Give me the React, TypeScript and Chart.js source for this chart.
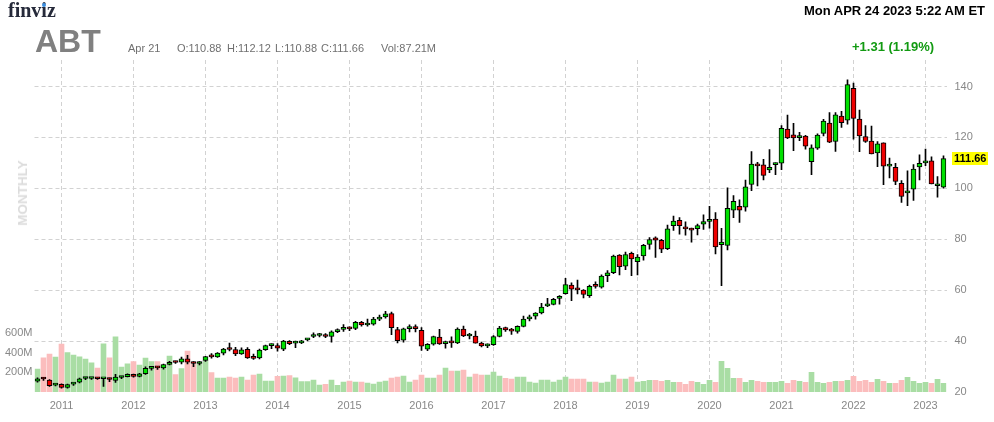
import React, { useEffect, useRef } from 'react';
import { Chart, registerables } from 'chart.js';

Chart.register(...registerables);

// ---- DATA (monthly candles, Sep 2010 .. Apr 2023) ----
const START_YEAR = 2010;
const START_MONTH = 8; // September (0-based)

const OPEN = [
  24.3, 25.3, 24.7, 22.7,
  23.0, 21.8, 23.1, 23.9, 25.3, 25.3, 25.4, 25.2, 25.0, 24.5, 25.7, 26.0,
  26.9, 26.1, 27.2, 29.3, 29.7, 29.5, 30.8, 31.7, 31.7, 33.0, 31.6, 31.2,
  32.4, 34.0, 33.8, 35.3, 36.9, 36.7, 35.0, 36.8, 33.5, 33.4, 36.6, 38.2,
  38.2, 36.8, 39.9, 39.2, 39.3, 40.5, 41.8, 42.2, 42.1, 41.8, 43.7, 44.6,
  45.1, 45.0, 47.4, 46.3, 46.6, 48.6, 49.5, 50.8, 44.5, 40.4, 44.9, 45.0,
  44.2, 36.8, 38.8, 41.6, 39.0, 39.6, 39.3, 44.7, 42.0, 42.0, 39.2, 38.1,
  38.6, 41.8, 45.3, 44.2, 43.8, 45.8, 48.7, 49.8, 51.1, 53.8, 54.4, 56.8,
  58.6, 62.0, 60.5, 60.0, 57.8, 61.8, 61.2, 65.7, 66.9, 73.8, 69.4, 74.5,
  71.2, 73.4, 78.0, 80.6, 79.6, 76.3, 85.3, 87.4, 84.6, 84.0, 84.2, 85.9,
  87.0, 87.9, 77.9, 77.6, 91.4, 92.9, 92.6, 101.5, 109.0, 109.2, 107.2, 109.3,
  109.9, 123.3, 121.0, 119.9, 120.5, 110.5, 115.8, 121.6, 125.6, 118.4, 128.4, 126.8,
  139.3, 127.2, 120.3, 118.6, 113.9, 117.9, 108.7, 108.2, 102.0, 98.2, 99.7, 108.4,
  110.0, 110.8, 101.0, 100.5,
];

const HIGH = [
  25.6, 25.8, 24.9, 23.2,
  23.2, 23.1, 23.6, 25.5, 25.8, 25.6, 25.7, 25.4, 25.5, 26.9, 26.2, 27.1,
  27.0, 27.3, 29.9, 29.9, 30.1, 31.0, 32.0, 32.1, 33.7, 34.4, 31.9, 31.9,
  34.0, 35.1, 35.5, 37.2, 39.2, 37.5, 37.3, 37.4, 34.9, 36.9, 38.4, 38.9,
  39.0, 40.3, 40.2, 40.0, 40.3, 41.0, 43.2, 43.0, 42.9, 44.0, 44.8, 46.5,
  45.6, 47.8, 47.8, 48.6, 49.3, 50.2, 51.7, 51.4, 45.4, 45.1, 46.4, 46.4,
  45.3, 39.0, 42.0, 44.6, 40.0, 41.7, 45.2, 45.9, 43.0, 43.9, 39.6, 38.9,
  42.2, 45.8, 45.5, 45.0, 46.0, 49.8, 50.2, 51.2, 54.8, 56.8, 56.8, 57.9,
  64.6, 62.9, 64.0, 60.2, 62.0, 63.3, 66.0, 67.7, 73.8, 74.0, 75.0, 75.0,
  74.0, 78.0, 80.7, 80.9, 80.0, 85.6, 89.1, 88.5, 86.8, 84.4, 86.0, 89.6,
  92.9, 90.5, 84.3, 100.2, 97.1, 95.5, 103.2, 114.4, 110.2, 111.4, 115.2, 110.0,
  124.6, 128.8, 125.5, 122.0, 120.8, 117.1, 121.4, 127.1, 129.7, 129.7, 130.2, 142.6,
  141.3, 130.7, 124.6, 124.4, 118.4, 117.9, 111.9, 109.8, 103.0, 106.9, 109.3, 113.2,
  115.4, 112.4, 104.6, 112.8,
];

const LOW = [
  23.9, 24.5, 22.2, 22.4,
  21.5, 21.5, 22.6, 23.6, 24.8, 24.9, 24.9, 22.2, 24.1, 23.8, 25.2, 25.9,
  25.8, 25.9, 26.9, 28.6, 28.9, 29.0, 30.6, 31.2, 31.0, 31.0, 29.9, 30.6,
  32.0, 33.3, 33.6, 34.6, 36.1, 34.3, 34.8, 33.2, 32.8, 33.0, 36.3, 37.0,
  36.0, 36.2, 38.6, 37.4, 39.0, 40.1, 41.3, 41.6, 41.3, 39.6, 43.3, 43.8,
  44.1, 44.5, 45.9, 45.9, 46.2, 48.0, 49.0, 42.5, 39.3, 39.6, 43.6, 43.6,
  36.3, 36.2, 38.4, 38.7, 37.2, 37.5, 39.0, 41.7, 40.8, 39.2, 37.7, 37.4,
  38.3, 41.6, 43.8, 42.6, 43.1, 45.6, 47.9, 48.6, 50.7, 53.5, 54.2, 54.5,
  58.4, 55.9, 58.5, 57.0, 57.1, 60.8, 60.8, 63.3, 66.5, 66.0, 68.0, 65.7,
  66.0, 71.8, 76.1, 72.9, 74.7, 75.9, 83.5, 82.0, 81.6, 78.8, 81.7, 83.9,
  84.3, 74.2, 61.8, 75.8, 88.5, 86.6, 91.0, 99.1, 100.9, 103.3, 106.1, 105.4,
  107.3, 119.5, 114.8, 118.7, 115.4, 105.4, 115.3, 120.6, 117.9, 114.5, 123.9, 125.2,
  119.3, 114.4, 118.0, 113.5, 108.5, 101.4, 104.1, 101.4, 94.5, 93.2, 95.2, 103.3,
  108.9, 101.7, 96.5, 100.1,
];

const CLOSE = [
  25.2, 25.1, 22.5, 22.9,
  21.8, 22.9, 23.3, 25.2, 25.4, 25.4, 25.2, 25.3, 24.9, 25.9, 25.8, 26.9,
  26.1, 27.1, 29.3, 29.6, 29.5, 30.8, 31.7, 31.6, 33.0, 31.7, 31.2, 31.4,
  33.9, 33.8, 35.3, 36.9, 36.7, 35.0, 36.6, 33.4, 33.2, 36.5, 38.2, 38.3,
  37.2, 40.0, 39.0, 39.3, 40.1, 40.9, 42.1, 42.4, 41.8, 43.6, 44.5, 45.0,
  44.8, 47.4, 46.3, 46.4, 48.6, 49.1, 50.7, 45.3, 40.2, 44.8, 44.9, 44.9,
  38.0, 38.7, 41.8, 38.9, 39.6, 39.3, 44.7, 42.0, 42.3, 39.2, 38.1, 38.4,
  41.8, 45.1, 44.4, 43.9, 45.8, 48.6, 49.2, 51.0, 53.4, 54.2, 56.4, 57.1,
  62.2, 60.4, 60.1, 58.3, 61.5, 61.5, 65.5, 66.8, 73.4, 69.2, 74.0, 72.3,
  73.0, 77.6, 79.9, 79.6, 76.1, 84.1, 87.1, 85.3, 84.1, 83.6, 85.4, 86.9,
  87.1, 77.0, 78.9, 92.1, 94.9, 91.4, 100.6, 109.5, 108.8, 105.1, 108.2, 109.5,
  123.6, 119.8, 119.8, 120.2, 116.6, 115.9, 120.9, 126.4, 118.1, 128.9, 125.8, 140.7,
  127.5, 120.6, 118.4, 113.5, 117.5, 108.7, 108.8, 102.7, 96.8, 98.9, 107.6, 109.8,
  110.6, 101.7, 101.3, 111.66,
];

// volume in millions of shares
const VOLUME = [
  233, 348, 385, 355,
  487, 399, 375, 358, 335, 297, 243, 490, 348, 561, 254, 287,
  308, 274, 345, 308, 308, 277, 365, 176, 237, 416, 304, 297,
  321, 196, 142, 142, 152, 142, 152, 122, 172, 183, 112, 112,
  159, 162, 166, 145, 105, 105, 122, 71, 78, 122, 68, 101,
  112, 101, 101, 91, 81, 101, 112, 142, 152, 162, 101, 122,
  172, 142, 142, 172, 243, 213, 213, 223, 152, 183, 172, 172,
  203, 162, 139, 132, 152, 152, 101, 91, 122, 122, 101, 122,
  152, 132, 132, 132, 101, 101, 91, 101, 172, 132, 132, 152,
  101, 108, 118, 118, 108, 118, 98, 98, 78, 108, 98, 78,
  118, 98, 311, 240, 139, 139, 98, 118, 108, 98, 98, 98,
  108, 88, 118, 108, 98, 199, 98, 88, 98, 108, 108, 118,
  159, 108, 118, 98, 128, 108, 88, 88, 118, 149, 108, 88,
  98, 88, 128, 88,
];

const PRICE_TICKS = [20, 40, 60, 80, 100, 120, 140];
const VOLUME_TICKS = [200, 400, 600];

const MONTHS = OPEN.map((_, i) => {
  const m = START_MONTH + i;
  return { year: START_YEAR + Math.floor(m / 12), month: m % 12 };
});
const CATEGORIES = MONTHS.map((d) => `${d.year}-${String(d.month + 1).padStart(2, '0')}`);

const GREEN = '#00e000';
const RED = '#ee0000';
const VOL_GREEN = '#a9dda4';
const VOL_PINK = '#fbbdbd';
const GRID = '#d2d2d2';
const FONT = '"Liberation Sans", Arial, Helvetica, sans-serif';

const lastPricePlugin = {
  id: 'lastPrice',
  afterDraw(chart: any) {
    const { ctx, scales } = chart;
    const last = CLOSE[CLOSE.length - 1];
    const y = scales.y.getPixelForValue(last);
    ctx.save();
    ctx.fillStyle = '#ffff00';
    ctx.fillRect(952, Math.round(y) - 7, 36, 13);
    ctx.fillStyle = '#000';
    ctx.font = `bold 11px ${FONT}`;
    ctx.textBaseline = 'middle';
    ctx.textAlign = 'left';
    ctx.fillText(last.toFixed(2), 954, Math.round(y) - 0.5);
    ctx.restore();
  },
};

function Txt(props: { x?: number; right?: number; baseline: number; size: number; bold?: boolean; color: string; family?: string; children: any }) {
  const { x, right, baseline, size, bold, color, family, children } = props;
  const style: any = {
    position: 'absolute',
    top: baseline - 0.8465 * size,
    fontSize: size,
    lineHeight: `${size}px`,
    fontWeight: bold ? 'bold' : 'normal',
    color,
    fontFamily: family || FONT,
    whiteSpace: 'nowrap',
  };
  if (x !== undefined) style.left = x;
  if (right !== undefined) style.right = right;
  return <span style={style}>{children}</span>;
}

export default function App() {
  const canvasRef = useRef<HTMLCanvasElement | null>(null);

  useEffect(() => {
    const canvas = canvasRef.current;
    if (!canvas) return;
    const up = CLOSE.map((c, i) => c >= OPEN[i]);
    const chart = new Chart(canvas, {
      type: 'bar',
      data: {
        labels: CATEGORIES,
        datasets: [
          {
            type: 'bar',
            label: 'body',
            data: OPEN.map((o, i) => [o, CLOSE[i]]) as any,
            yAxisID: 'y',
            grouped: false,
            barThickness: 5,
            minBarLength: 2,
            backgroundColor: up.map((u) => (u ? GREEN : RED)),
            borderColor: '#000',
            borderWidth: 1,
            borderSkipped: false,
            order: 0,
          } as any,
          {
            type: 'bar',
            label: 'wick',
            data: LOW.map((l, i) => [l, HIGH[i]]) as any,
            yAxisID: 'y',
            grouped: false,
            barThickness: 1,
            backgroundColor: '#000',
            borderWidth: 0,
            order: 1,
          } as any,
          {
            type: 'bar',
            label: 'volume',
            data: VOLUME,
            yAxisID: 'yv',
            grouped: false,
            barThickness: 5,
            backgroundColor: up.map((u) => (u ? VOL_GREEN : VOL_PINK)),
            borderWidth: 0,
            order: 2,
          } as any,
        ],
      },
      options: {
        responsive: false,
        maintainAspectRatio: false,
        animation: false,
        devicePixelRatio: 1,
        events: [],
        layout: { padding: { top: 60, left: 0, right: 0, bottom: 0 } },
        plugins: { legend: { display: false }, tooltip: { enabled: false } },
        scales: {
          x: {
            type: 'category',
            offset: true,
            grid: {
              offset: false,
              drawTicks: false,
              lineWidth: 1,
              color: (ctx: any) => (ctx.index != null && MONTHS[ctx.index] && MONTHS[ctx.index].month === 0 ? GRID : 'rgba(0,0,0,0)'),
            },
            border: { display: false, dash: [4, 3] },
            ticks: {
              autoSkip: false,
              maxRotation: 0,
              minRotation: 0,
              padding: 7,
              color: '#888',
              font: { family: FONT, size: 11 },
              callback: (_v: any, i: number) => (MONTHS[i].month === 0 ? String(MONTHS[i].year) : ''),
            },
            afterFit: (s: any) => {
              s.height = 30;
            },
          },
          y: {
            type: 'linear',
            position: 'right',
            min: 20,
            max: 150.4,
            afterBuildTicks: (s: any) => {
              s.ticks = PRICE_TICKS.map((v) => ({ value: v }));
            },
            grid: {
              drawTicks: false,
              color: (ctx: any) => (ctx.tick && ctx.tick.value === 20 ? 'rgba(0,0,0,0)' : GRID),
            },
            border: { display: false, dash: [4, 3] },
            ticks: {
              padding: 8,
              color: '#888',
              font: { family: FONT, size: 11 },
            },
            afterFit: (s: any) => {
              s.width = 47.5;
            },
          },
          yv: {
            type: 'linear',
            position: 'left',
            min: 0,
            max: 3370,
            afterBuildTicks: (s: any) => {
              s.ticks = VOLUME_TICKS.map((v) => ({ value: v }));
            },
            grid: { display: false, drawTicks: false },
            border: { display: false },
            ticks: {
              padding: 2,
              color: '#888',
              font: { family: FONT, size: 11 },
              callback: (v: any) => `${v}M`,
            },
            afterFit: (s: any) => {
              s.width = 34.5;
            },
          },
        },
      } as any,
      plugins: [lastPricePlugin],
    });
    return () => chart.destroy();
  }, []);

  return (
    <div style={{ position: 'fixed', left: 0, top: 0, width: 994, height: 422, background: '#fff', overflow: 'hidden', fontFamily: FONT }}>
      <canvas ref={canvasRef} width={994} height={422} style={{ position: 'absolute', left: 0, top: 0, width: 994, height: 422 }} />
      <Txt x={8} baseline={17} size={20} bold color="#262a3a" family={'"Liberation Serif", "DejaVu Serif", serif'}>finviz</Txt>
      <span style={{ position: 'absolute', left: 41.5, top: 2.5, width: 4, height: 4, borderRadius: 2, background: '#3d8fe0' }} />
      <Txt x={35} baseline={52} size={32} bold color="#808080">ABT</Txt>
      <Txt x={128} baseline={52} size={11} color="#707070">Apr 21</Txt>
      <Txt x={177} baseline={52} size={11} color="#707070">O:110.88</Txt>
      <Txt x={227} baseline={52} size={11} color="#707070">H:112.12</Txt>
      <Txt x={275} baseline={52} size={11} color="#707070">L:110.88</Txt>
      <Txt x={321} baseline={52} size={11} color="#707070">C:111.66</Txt>
      <Txt x={381} baseline={52} size={11} color="#707070">Vol:87.21M</Txt>
      <Txt right={9} baseline={15} size={13} bold color="#000">Mon APR 24 2023 5:22 AM ET</Txt>
      <Txt x={852} baseline={51} size={13} bold color="#129a12">+1.31 (1.19%)</Txt>
      <span
        style={{
          position: 'absolute',
          left: 23,
          top: 193,
          transform: 'translate(-50%, -50%) rotate(-90deg)',
          fontSize: 13.5,
          fontWeight: 'bold',
          color: '#dcdcdc',
          whiteSpace: 'nowrap',
          lineHeight: '14px',
        }}
      >
        MONTHLY
      </span>
    </div>
  );
}
